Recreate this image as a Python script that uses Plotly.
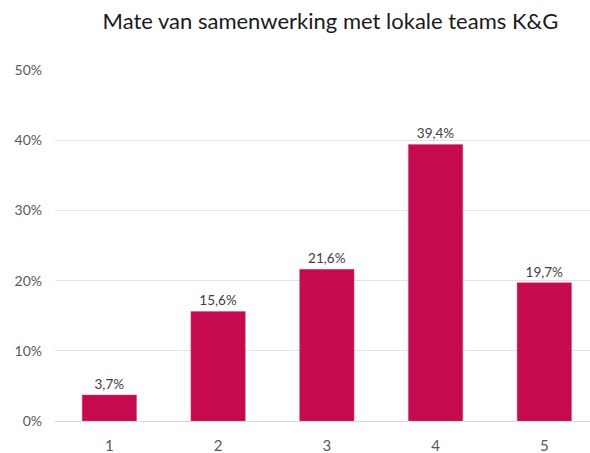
import plotly.graph_objects as go

categories = ["1", "2", "3", "4", "5"]
values = [0.037, 0.156, 0.216, 0.394, 0.197]
y_ticks = [0, 0.1, 0.2, 0.3, 0.4, 0.5]
y_tick_labels = ["0%", "10%", "20%", "30%", "40%", "50%"]
title_text = "Mate van samenwerking met lokale teams K&G"

fig = go.Figure(
    go.Bar(
        x=categories,
        y=values,
        width=0.5,
        marker=dict(color="#C50A4F", line=dict(color="#D24E78", width=0.5)),
        texttemplate="%{y:.1%}",
        textposition="outside",
        textfont=dict(family="Lato, Open Sans, sans-serif", size=13.5, color="#404040"),
        cliponaxis=False,
    )
)

fig.update_layout(
    width=590,
    height=453,
    separators=",.",
    paper_bgcolor="white",
    plot_bgcolor="white",
    margin=dict(l=55, r=0, t=70, b=32),
    showlegend=False,
    title=dict(
        text=title_text,
        x=0.56,
        xref="container",
        xanchor="center",
        y=0.952,
        yref="container",
        yanchor="middle",
        font=dict(family="Lato, Open Sans, sans-serif", size=22, color="#1a1a1a"),
    ),
    font=dict(family="Lato, Open Sans, sans-serif", color="#595959"),
)

fig.update_yaxes(
    range=[0, 0.5],
    tickvals=y_ticks,
    ticktext=y_tick_labels,
    showgrid=True,
    gridcolor="#E3E3E3",
    gridwidth=1,
    zeroline=True,
    zerolinecolor="#D9D9D9",
    zerolinewidth=1,
    ticks="",
    ticklabelstandoff=12,
    tickfont=dict(size=14, color="#595959"),
)
fig.update_xaxes(
    range=[-0.5, 4.42],
    showgrid=False,
    ticks="",
    ticklabelstandoff=14,
    tickfont=dict(size=15, color="#595959"),
)

fig.write_html(
    "out.html",
    config={"displayModeBar": False},
    post_script="document.body.style.margin='0';document.body.style.overflow='hidden';",
)
